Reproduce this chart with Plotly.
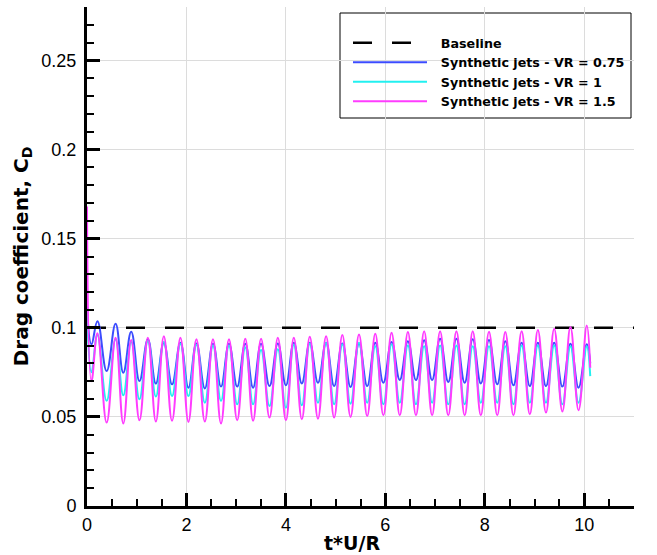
import plotly.graph_objects as go

# Time instants of read-off extrema (start, early dip, then alternating peak / trough, end)
t_ext = [0.0, 0.09, 0.21, 0.395, 0.575, 0.73, 0.889, 1.055, 1.224, 1.385, 1.545, 1.71,
         1.879, 2.04, 2.2, 2.37, 2.534, 2.695, 2.855, 3.02, 3.183, 3.34, 3.50, 3.67,
         3.838, 4.0, 4.159, 4.32, 4.48, 4.645, 4.808, 4.97, 5.135, 5.30, 5.47, 5.635,
         5.797, 5.96, 6.125, 6.29, 6.453, 6.615, 6.78, 6.94, 7.101, 7.265, 7.429, 7.595,
         7.757, 7.92, 8.084, 8.25, 8.412, 8.575, 8.74, 8.905, 9.067, 9.23, 9.395, 9.56,
         9.722, 9.885, 10.05, 10.12]

cd_vr075 = [0.112, 0.0907,
            0.1037, 0.0757, 0.1022, 0.0748, 0.0978, 0.0701, 0.0935, 0.0687, 0.0916, 0.0683,
            0.0916, 0.0664, 0.0912, 0.0660, 0.0910, 0.0670, 0.0910, 0.0670, 0.0910, 0.0664, 0.0910,
            0.0673, 0.0912, 0.0677, 0.0916, 0.0688, 0.0916, 0.0692, 0.0916, 0.0673, 0.0912,
            0.0668, 0.0912, 0.0673, 0.0916, 0.0692, 0.0920, 0.0707, 0.0925, 0.0707, 0.0930,
            0.0707, 0.0938, 0.0696, 0.0938, 0.0692, 0.0935, 0.0688, 0.0931, 0.0683, 0.0925,
            0.0677, 0.0916, 0.0673, 0.0916, 0.0673, 0.0916, 0.0670, 0.0910, 0.0664, 0.0907,
            0.0800]

cd_vr1 = [0.110, 0.075,
          0.096, 0.0590, 0.0935, 0.0621, 0.0920, 0.0599, 0.0925, 0.0614, 0.0920, 0.0617,
          0.0910, 0.0617, 0.0905, 0.0580, 0.0900, 0.0590, 0.0900, 0.0571, 0.0890, 0.0571, 0.0875,
          0.0561, 0.0879, 0.0552, 0.0905, 0.0565, 0.0912, 0.0580, 0.0916, 0.0571, 0.0907,
          0.0574, 0.0916, 0.0580, 0.0897, 0.0571, 0.0907, 0.0580, 0.0901, 0.0571, 0.0897,
          0.0580, 0.0900, 0.0571, 0.0900, 0.0571, 0.0897, 0.0580, 0.0897, 0.0580, 0.0897,
          0.0571, 0.0901, 0.0580, 0.0901, 0.0580, 0.0901, 0.0571, 0.0897, 0.0580, 0.0897,
          0.0729]

cd_vr15 = [0.168, 0.070,
           0.097, 0.0468, 0.0944, 0.0463, 0.0931, 0.0481, 0.0944, 0.0474, 0.0953, 0.0478,
           0.0944, 0.0472, 0.0935, 0.0474, 0.0935, 0.0463, 0.0935, 0.0481, 0.0938, 0.0478, 0.0938,
           0.0496, 0.0944, 0.0481, 0.0944, 0.0487, 0.0950, 0.0490, 0.0953, 0.0496, 0.0959,
           0.0500, 0.0963, 0.0505, 0.0966, 0.0509, 0.0972, 0.0509, 0.0976, 0.0509, 0.0981,
           0.0509, 0.0981, 0.0509, 0.0981, 0.0509, 0.0981, 0.0509, 0.0978, 0.0509, 0.0976,
           0.0509, 0.0981, 0.0515, 0.0987, 0.0524, 0.0994, 0.0530, 0.1004, 0.0537, 0.1013,
           0.0776]

baseline_t = [0.0, 11.0]
baseline_cd = [0.1, 0.1]

series_names = ["Baseline", "Synthetic jets - VR = 0.75", "Synthetic jets - VR = 1",
                "Synthetic jets - VR = 1.5"]
x_ticks = [0, 2, 4, 6, 8, 10]
y_ticks = [0, 0.05, 0.1, 0.15, 0.2, 0.25]
x_title = "t*U/R"
y_title = "Drag coefficient, C<sub>D</sub>"

FONT = "Liberation Sans, Arial, Helvetica, sans-serif"
BOLD_FONT = "DejaVu Sans, Liberation Sans, sans-serif"
PAD = "\u00a0\u00a0"

fig = go.Figure()
fig.add_trace(go.Scatter(x=baseline_t, y=baseline_cd, mode="lines", name=PAD + series_names[0],
                         line=dict(color="black", width=2.5, dash="19px,20px")))
fig.add_trace(go.Scatter(x=t_ext, y=cd_vr075, mode="lines", name=PAD + series_names[1],
                         line=dict(color="#3c4cff", width=2, shape="spline", smoothing=1.2)))
fig.add_trace(go.Scatter(x=t_ext, y=cd_vr1, mode="lines", name=PAD + series_names[2],
                         line=dict(color="#22f0f0", width=2, shape="spline", smoothing=1.2)))
fig.add_trace(go.Scatter(x=t_ext, y=cd_vr15, mode="lines", name=PAD + series_names[3],
                         line=dict(color="#ff3cff", width=2, shape="spline", smoothing=1.2)))

axis_common = dict(
    showline=True, linecolor="black", linewidth=3, mirror=False,
    ticks="inside", ticklen=13, tickwidth=3, tickcolor="black",
    showgrid=True, gridcolor="#dcdcdc", gridwidth=1, zeroline=False,
    automargin=False,
    tickfont=dict(family=FONT, size=18, color="black"),
)

fig.update_layout(
    width=657, height=555,
    margin=dict(l=87, r=23, t=7, b=49),
    paper_bgcolor="white", plot_bgcolor="white",
    showlegend=True,
    legend=dict(x=(348 - 87) / 547, y=0.958, xanchor="left", yanchor="top",
                bgcolor="rgba(0,0,0,0)", borderwidth=0,
                font=dict(family=BOLD_FONT, size=12.7, color="black", weight="bold"),
                itemwidth=74, tracegroupgap=0),
    xaxis=dict(range=[0, 11], tickvals=x_ticks,
               minor=dict(dtick=0.5, ticks="inside", ticklen=7, tickwidth=1.5,
                          tickcolor="black", showgrid=False),
               ticklabelstandoff=0,
               **axis_common),
    yaxis=dict(range=[0, 0.28], tickvals=y_ticks,
               minor=dict(dtick=0.01, ticks="inside", ticklen=7, tickwidth=1.5,
                          tickcolor="black", showgrid=False),
               ticklabelstandoff=4,
               title=dict(text=y_title, standoff=8,
                          font=dict(family=BOLD_FONT, size=20, color="black", weight="bold")),
               **axis_common),
    annotations=[dict(text=x_title, xref="paper", yref="paper",
                      x=(352 - 87) / 547, y=-(555 - 506) / 499,
                      xanchor="center", yanchor="bottom", showarrow=False, borderpad=0,
                      font=dict(family=BOLD_FONT, size=19, color="black", weight="bold"))],
    shapes=[dict(type="rect", xref="paper", yref="paper",
                 x0=(340 - 87) / 547, x1=(631 - 87) / 547,
                 y0=(506 - 118) / 499, y1=(506 - 13) / 499,
                 line=dict(color="black", width=1), fillcolor="white", layer="below")],
)

fig.write_html("out.html")
